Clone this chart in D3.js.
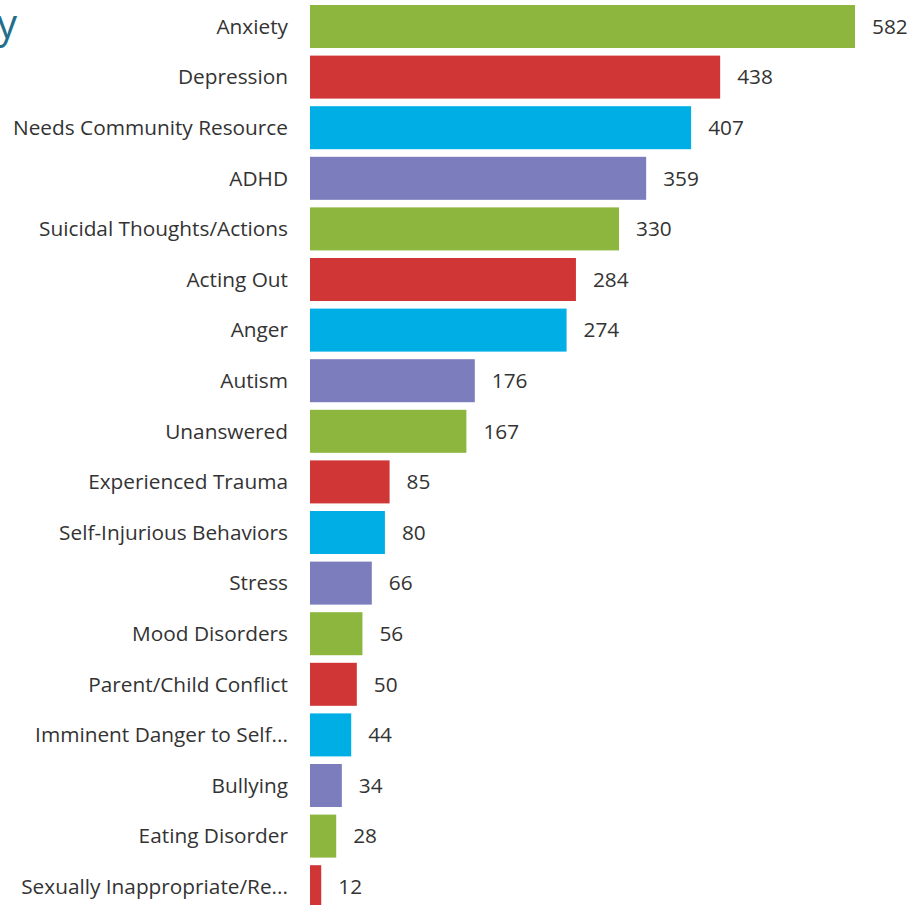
<!DOCTYPE html>
<html>
<head>
<meta charset="utf-8">
<script src="https://d3js.org/d3.v7.min.js"></script>
<style>
  body { margin: 0; background: #fff; }
  svg text { font-family: "Open Sans", Lato, sans-serif; }
</style>
</head>
<body>
<script>
var categories = ["Anxiety", "Depression", "Needs Community Resource", "ADHD",
  "Suicidal Thoughts/Actions", "Acting Out", "Anger", "Autism", "Unanswered",
  "Experienced Trauma", "Self-Injurious Behaviors", "Stress", "Mood Disorders",
  "Parent/Child Conflict", "Imminent Danger to Self...", "Bullying",
  "Eating Disorder", "Sexually Inappropriate/Re..."];
var counts = [582, 438, 407, 359, 330, 284, 274, 176, 167, 85, 80, 66, 56, 50, 44, 34, 28, 12];

var palette = ["#8db63f", "#d13636", "#00aee6", "#7b7dbd"];

var width = 919, height = 905;

var svg = d3.select("body").append("svg")
    .attr("width", width)
    .attr("height", height);

// cut-off title at the top left
svg.append("text")
    .attr("x", -3)
    .attr("y", 38)
    .attr("fill", "#236e8a")
    .style("font-size", "40px")
    .text("y");

var step = 50.6;
var x = d3.scaleLinear()
    .domain([0, 582])
    .range([310, 855]);

var y = d3.scaleBand()
    .domain(categories)
    .range([5, 5 + (categories.length - 0.15) * step])
    .paddingInner(0.15)
    .paddingOuter(0);

var rows = svg.append("g")
  .selectAll("g")
  .data(categories)
  .enter()
  .append("g");

rows.append("rect")
    .attr("x", x(0))
    .attr("y", function(d) { return y(d); })
    .attr("width", function(d, i) { return x(counts[i]) - x(0); })
    .attr("height", y.bandwidth())
    .attr("fill", function(d, i) { return palette[i % 4]; });

rows.append("text")
    .attr("x", 288)
    .attr("y", function(d) { return y(d) + y.bandwidth() / 2; })
    .attr("dy", "0.35em")
    .attr("text-anchor", "end")
    .attr("fill", "#333")
    .style("font-size", "20.8px")
    .text(function(d) { return d; });

rows.append("text")
    .attr("x", function(d, i) { return x(counts[i]) + 17; })
    .attr("y", function(d) { return y(d) + y.bandwidth() / 2; })
    .attr("dy", "0.35em")
    .attr("fill", "#333")
    .style("font-size", "20.8px")
    .text(function(d, i) { return counts[i]; });
</script>
</body>
</html>
